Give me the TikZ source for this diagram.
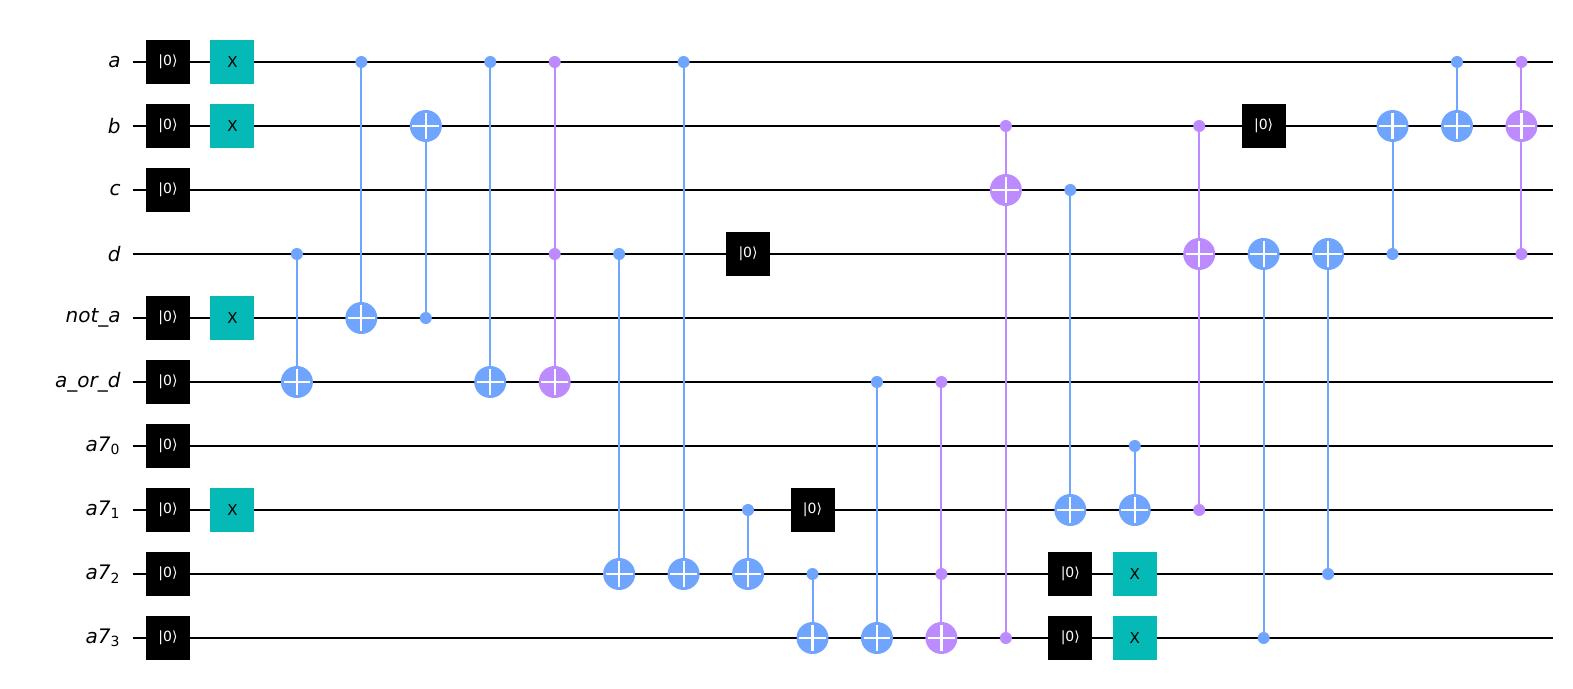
\documentclass[tikz,border=0pt]{standalone}
\usepackage{fontspec}
\setmainfont{DejaVu Sans}
\begin{document}
\begin{tikzpicture}[x=0.5pt,y=-0.5pt,
  wire/.style={line width=1pt,black},
  lbl/.style={anchor=east,font=\fontsize{10}{12}\selectfont\itshape,inner sep=0},
  rst/.style={fill=black,text=white,minimum size=22pt,inner sep=0,font=\fontsize{7}{8}\selectfont},
  xg/.style={fill=xcol,text=black,minimum size=22pt,inner sep=0,font=\fontsize{7.5}{8}\selectfont},
  ctl/.style={circle,inner sep=0,minimum size=6pt},
  tgt/.style={circle,inner sep=0,minimum size=16pt},
  conn/.style={line width=1pt}]
\definecolor{bl}{HTML}{6FA4FF}
\definecolor{pu}{HTML}{BB8BFF}
\definecolor{xcol}{HTML}{05BAB6}
\fill[white] (0,0) rectangle (1573,689);
\useasboundingbox (0,0) rectangle (1573,689);
\newcommand\pos[2]{({168+64.45*#1},{62+64*#2})}
\newcommand\Ctl[4]{\node[ctl,fill=#4] (#1) at \pos{#2}{#3} {};}
\newcommand\Tgt[4]{\node[tgt,fill=#4] (#1) at \pos{#2}{#3} {};
  \draw[white,line width=1.1pt] ([yshift=-1.5]#1.north)--([yshift=1.5]#1.south) ([xshift=1.5]#1.west)--([xshift=-1.5]#1.east);}
\newcommand\Rst[3]{\node[rst] (#1) at \pos{#2}{#3} {|0⟩};}
\newcommand\Xg[3]{\node[xg] (#1) at \pos{#2}{#3} {X};}
\newcommand\sub[1]{\textsubscript{\upshape #1}}
% wires
\foreach \i/\t in {0/a,1/b,2/c,3/d,4/not\_a,5/a\_or\_d,6/a7\sub{0},7/a7\sub{1},8/a7\sub{2},9/a7\sub{3}}{
  \node[lbl] (L\i) at (121,{62+64*\i}) {\t};
  \coordinate (S\i) at (133,{62+64*\i});
  \coordinate (E\i) at (1553,{62+64*\i});
  \draw[wire] (S\i) -- (E\i);
}
\foreach \w in {0,1,2,4,5,6,7,8,9}{\Rst{r0-\w}{0}{\w}}
\foreach \w in {0,1,4,7}{\Xg{x1-\w}{1}{\w}}
\newcommand\CX[4]{\Ctl{c#1}{#1}{#2}{#4}\Tgt{t#1}{#1}{#3}{#4}\draw[conn,#4] (c#1)--(t#1);}
\CX{2}{3}{5}{bl}
\CX{3}{0}{4}{bl}
\CX{4}{4}{1}{bl}
\CX{5}{0}{5}{bl}
\Ctl{c6a}{6}{0}{pu}\Ctl{c6b}{6}{3}{pu}\Tgt{t6}{6}{5}{pu}
\draw[conn,pu] (c6a)--(c6b) (c6b)--(t6);
\CX{7}{3}{8}{bl}
\CX{8}{0}{8}{bl}
\Rst{r9}{9}{3}
\CX{9}{7}{8}{bl}
\Rst{r10}{10}{7}
\CX{10}{8}{9}{bl}
\CX{11}{5}{9}{bl}
\Ctl{c12a}{12}{5}{pu}\Ctl{c12b}{12}{8}{pu}\Tgt{t12}{12}{9}{pu}
\draw[conn,pu] (c12a)--(c12b) (c12b)--(t12);
\Ctl{c13a}{13}{1}{pu}\Tgt{t13}{13}{2}{pu}\Ctl{c13b}{13}{9}{pu}
\draw[conn,pu] (c13a)--(t13) (t13)--(c13b);
\CX{14}{2}{7}{bl}
\Rst{r14a}{14}{8}\Rst{r14b}{14}{9}
\CX{15}{6}{7}{bl}
\Xg{x15a}{15}{8}\Xg{x15b}{15}{9}
\Ctl{c16a}{16}{1}{pu}\Tgt{t16}{16}{3}{pu}\Ctl{c16b}{16}{7}{pu}
\draw[conn,pu] (c16a)--(t16) (t16)--(c16b);
\Rst{r17}{17}{1}
\CX{17}{9}{3}{bl}
\CX{18}{8}{3}{bl}
\CX{19}{3}{1}{bl}
\CX{20}{0}{1}{bl}
\Ctl{c21a}{21}{0}{pu}\Tgt{t21}{21}{1}{pu}\Ctl{c21b}{21}{3}{pu}
\draw[conn,pu] (c21a)--(t21) (t21)--(c21b);
\end{tikzpicture}
\end{document}
